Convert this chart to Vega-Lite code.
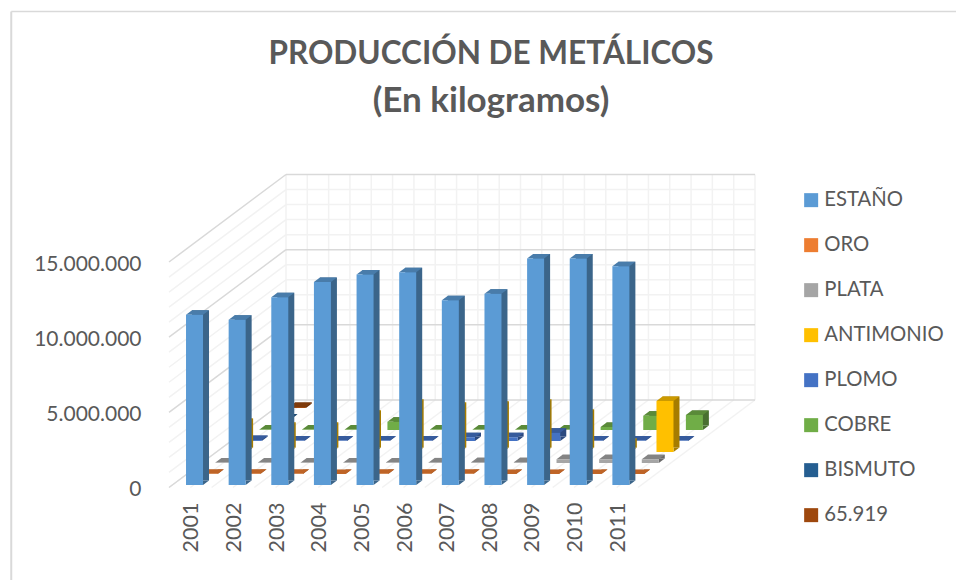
{"$schema":"https://vega.github.io/schema/vega-lite/v6.json","width":956,"height":580,"padding":0,"autosize":"none","background":"#ffffff","title":{"text":"PRODUCCIÓN DE METÁLICOS","subtitle":"(En kilogramos)","font":"Lato","fontSize":31.5,"fontWeight":"bold","color":"#595959","subtitleFont":"Lato","subtitleFontSize":35,"subtitleFontWeight":"bold","subtitleColor":"#595959","subtitlePadding":14,"anchor":"middle","dx":13,"offset":-119},"config":{"view":{"stroke":null},"font":"Lato","axis":{"grid":false,"domain":false,"ticks":false}},"data":{"values":[
{"frame":1},
{"grid":"minor","v":1000000},{"grid":"minor","v":2000000},{"grid":"minor","v":3000000},{"grid":"minor","v":4000000},{"grid":"minor","v":6000000},{"grid":"minor","v":7000000},{"grid":"minor","v":8000000},{"grid":"minor","v":9000000},{"grid":"minor","v":11000000},{"grid":"minor","v":12000000},{"grid":"minor","v":13000000},{"grid":"minor","v":14000000},
{"grid":"major","v":0},{"grid":"major","v":5000000},{"grid":"major","v":10000000},{"grid":"major","v":15000000},
{"cat":2000.5},{"cat":2001},{"cat":2001.5},{"cat":2002},{"cat":2002.5},{"cat":2003},{"cat":2003.5},{"cat":2004},{"cat":2004.5},{"cat":2005},{"cat":2005.5},{"cat":2006},{"cat":2006.5},{"cat":2007},{"cat":2007.5},{"cat":2008},{"cat":2008.5},{"cat":2009},{"cat":2009.5},{"cat":2010},{"cat":2010.5},{"cat":2011},{"cat":2011.5},
{"year":2001,"serie":"ESTAÑO","value":11330000},{"year":2002,"serie":"ESTAÑO","value":11000000},{"year":2003,"serie":"ESTAÑO","value":12490000},{"year":2004,"serie":"ESTAÑO","value":13510000},{"year":2005,"serie":"ESTAÑO","value":14000000},{"year":2006,"serie":"ESTAÑO","value":14150000},{"year":2007,"serie":"ESTAÑO","value":12290000},{"year":2008,"serie":"ESTAÑO","value":12730000},{"year":2009,"serie":"ESTAÑO","value":15070000},{"year":2010,"serie":"ESTAÑO","value":15070000},{"year":2011,"serie":"ESTAÑO","value":14550000},
{"year":2001,"serie":"ORO","value":12000},{"year":2002,"serie":"ORO","value":11000},{"year":2003,"serie":"ORO","value":9000},{"year":2004,"serie":"ORO","value":6000},{"year":2005,"serie":"ORO","value":9000},{"year":2006,"serie":"ORO","value":10000},{"year":2007,"serie":"ORO","value":9000},{"year":2008,"serie":"ORO","value":8000},{"year":2009,"serie":"ORO","value":7000},{"year":2010,"serie":"ORO","value":6000},{"year":2011,"serie":"ORO","value":7000},
{"year":2001,"serie":"PLATA","value":30000},{"year":2002,"serie":"PLATA","value":30000},{"year":2003,"serie":"PLATA","value":30000},{"year":2004,"serie":"PLATA","value":30000},{"year":2005,"serie":"PLATA","value":30000},{"year":2006,"serie":"PLATA","value":40000},{"year":2007,"serie":"PLATA","value":50000},{"year":2008,"serie":"PLATA","value":50000},{"year":2009,"serie":"PLATA","value":250000},{"year":2010,"serie":"PLATA","value":250000},{"year":2011,"serie":"PLATA","value":250000},
{"year":2001,"serie":"ANTIMONIO","value":1930000},{"year":2002,"serie":"ANTIMONIO","value":1670000},{"year":2003,"serie":"ANTIMONIO","value":1670000},{"year":2004,"serie":"ANTIMONIO","value":2470000},{"year":2005,"serie":"ANTIMONIO","value":3200000},{"year":2006,"serie":"ANTIMONIO","value":3000000},{"year":2007,"serie":"ANTIMONIO","value":3070000},{"year":2008,"serie":"ANTIMONIO","value":3200000},{"year":2009,"serie":"ANTIMONIO","value":2530000},{"year":2010,"serie":"ANTIMONIO","value":600000},{"year":2011,"serie":"ANTIMONIO","value":3400000},
{"year":2001,"serie":"PLOMO","value":60000},{"year":2002,"serie":"PLOMO","value":30000},{"year":2003,"serie":"PLOMO","value":30000},{"year":2004,"serie":"PLOMO","value":30000},{"year":2005,"serie":"PLOMO","value":30000},{"year":2006,"serie":"PLOMO","value":250000},{"year":2007,"serie":"PLOMO","value":250000},{"year":2008,"serie":"PLOMO","value":550000},{"year":2009,"serie":"PLOMO","value":30000},{"year":2010,"serie":"PLOMO","value":30000},{"year":2011,"serie":"PLOMO","value":30000},
{"year":2001,"serie":"COBRE","value":30000},{"year":2002,"serie":"COBRE","value":30000},{"year":2003,"serie":"COBRE","value":30000},{"year":2004,"serie":"COBRE","value":550000},{"year":2005,"serie":"COBRE","value":30000},{"year":2006,"serie":"COBRE","value":30000},{"year":2007,"serie":"COBRE","value":30000},{"year":2008,"serie":"COBRE","value":30000},{"year":2009,"serie":"COBRE","value":200000},{"year":2010,"serie":"COBRE","value":950000},{"year":2011,"serie":"COBRE","value":1000000},
{"year":2001,"serie":"BISMUTO","value":30000},{"year":2001,"serie":"65.919","value":65919}]},"layer":[
{"transform":[{"filter":"datum.frame===1"}],"mark":{"type":"rule","color":"#d9d9d9","strokeWidth":1.5},"encoding":{"x":{"datum":1996.8},"x2":{"datum":2019},"y":{"datum":31660000}}},
{"transform":[{"filter":"datum.frame===1"}],"mark":{"type":"rule","color":"#d9d9d9","strokeWidth":2},"encoding":{"x":{"datum":1996.8},"y":{"datum":31660000},"y2":{"datum":-6200000}}},
{"transform":[{"filter":"datum.grid==='minor'"}],"mark":{"type":"rule","color":"#f2f2f2","strokeWidth":1.5,"xOffset":117,"x2Offset":117,"yOffset":-87.5,"y2Offset":-87.5},"encoding":{"x":{"datum":2000.5},"x2":{"datum":2011.5},"y":{"field":"v","type":"quantitative"},"y2":{"field":"v"}}},
{"transform":[{"filter":"datum.grid==='minor'"}],"mark":{"type":"rule","color":"#f2f2f2","strokeWidth":1.5,"x2Offset":117,"y2Offset":-87.5},"encoding":{"x":{"datum":2000.5},"x2":{"datum":2000.5},"y":{"field":"v","type":"quantitative"},"y2":{"field":"v"}}},
{"transform":[{"filter":"isValid(datum.cat)"}],"mark":{"type":"rule","color":"#f2f2f2","strokeWidth":1.5,"xOffset":117,"yOffset":-87.5,"y2Offset":-87.5},"encoding":{"x":{"field":"cat","type":"quantitative"},"y":{"datum":0},"y2":{"datum":15000000}}},
{"transform":[{"filter":"isValid(datum.cat)"}],"mark":{"type":"rule","color":"#f2f2f2","strokeWidth":1.5,"x2Offset":117,"y2Offset":-87.5},"encoding":{"x":{"field":"cat","type":"quantitative"},"x2":{"field":"cat"},"y":{"datum":0},"y2":{"datum":0}}},
{"transform":[{"filter":"datum.grid==='major'"}],"mark":{"type":"rule","color":"#d9d9d9","strokeWidth":1.5,"xOffset":117,"x2Offset":117,"yOffset":-87.5,"y2Offset":-87.5},"encoding":{"x":{"datum":2000.5},"x2":{"datum":2011.5},"y":{"field":"v","type":"quantitative"},"y2":{"field":"v"}}},
{"transform":[{"filter":"datum.grid==='major'"}],"mark":{"type":"rule","color":"#d9d9d9","strokeWidth":1.5,"x2Offset":117,"y2Offset":-87.5},"encoding":{"x":{"datum":2000.5},"x2":{"datum":2000.5},"y":{"field":"v","type":"quantitative"},"y2":{"field":"v"}}},
{"encoding":{"x":{"field":"year","type":"quantitative","scale":{"domain":[2000.5,2011.5],"range":[169,638],"nice":false,"zero":false,"padding":0},"axis":{"title":null,"values":[2001,2002,2003,2004,2005,2006,2007,2008,2009,2010,2011],"format":"d","labelAngle":-90,"labelFontSize":21.5,"labelFont":"Lato","labelColor":"#595959","labelOffset":1.5,"domain":false,"ticks":false,"grid":false,"offset":-92,"labelPadding":14}},"y":{"field":"value","type":"quantitative","stack":null,"scale":{"domain":[0,15000000],"range":[487.5,262],"nice":false,"zero":false},"axis":{"title":null,"values":[0,5000000,10000000,15000000],"labelExpr":"replace(format(datum.value,','),/,/g,'.')","labelFontSize":21,"labelFont":"Lato","labelColor":"#595959","labelOffset":2,"domain":false,"ticks":false,"grid":false,"offset":-148,"labelPadding":7}}},"layer":[
{"transform":[{"filter":"datum.serie==='65.919'"}],"layer":[
{"mark":{"type":"bar","orient":"vertical","width":17,"color":"#672f09","xOffset":113.1,"yOffset":-84,"y2Offset":-84},"encoding":{"y2":{"datum":0}}},
{"mark":{"type":"point","filled":true,"opacity":1,"size":400,"shape":"M0.85 0L1.45 -0.45L0.85 -0.45Z","color":"#672f09","xOffset":107.1,"yOffset":-79.5},"encoding":{"y":{"datum":0}}},
{"mark":{"type":"point","filled":true,"opacity":1,"size":400,"shape":"M-0.85 0L0.85 0L1.45 -0.45L-0.25 -0.45Z","color":"#7e3a0b","xOffset":107.1,"yOffset":-79.5}},
{"mark":{"type":"bar","orient":"vertical","width":17,"xOffset":107.1,"yOffset":-79.5,"y2Offset":-79.5},"encoding":{"y2":{"datum":0},"color":{"field":"serie","type":"nominal","scale":{"domain":["ESTAÑO","ORO","PLATA","ANTIMONIO","PLOMO","COBRE","BISMUTO","65.919"],"range":["#5b9bd5","#ed7d31","#a5a5a5","#ffc000","#4472c4","#70ad47","#255e91","#9e480e"]},"legend":{"title":null,"orient":"none","legendX":801,"legendY":190,"symbolType":"square","symbolSize":196,"symbolStrokeWidth":0,"labelFontSize":20.3,"labelFont":"Lato","labelColor":"#595959","labelOffset":3,"rowPadding":24,"labelLimit":200}}}}
]},
{"transform":[{"filter":"datum.serie==='BISMUTO'"}],"layer":[
{"mark":{"type":"bar","orient":"vertical","width":17,"color":"#183d5e","xOffset":98.4,"yOffset":-73,"y2Offset":-73},"encoding":{"y2":{"datum":0}}},
{"mark":{"type":"point","filled":true,"opacity":1,"size":400,"shape":"M0.85 0L1.45 -0.45L0.85 -0.45Z","color":"#183d5e","xOffset":92.4,"yOffset":-68.5},"encoding":{"y":{"datum":0}}},
{"mark":{"type":"point","filled":true,"opacity":1,"size":400,"shape":"M-0.85 0L0.85 0L1.45 -0.45L-0.25 -0.45Z","color":"#1e4b74","xOffset":92.4,"yOffset":-68.5}},
{"mark":{"type":"bar","orient":"vertical","width":17,"xOffset":92.4,"yOffset":-68.5,"y2Offset":-68.5},"encoding":{"y2":{"datum":0},"color":{"field":"serie","type":"nominal"}}}
]},
{"transform":[{"filter":"datum.serie==='COBRE'"}],"layer":[
{"mark":{"type":"bar","orient":"vertical","width":17,"color":"#497030","xOffset":83.7,"yOffset":-62,"y2Offset":-62},"encoding":{"y2":{"datum":0}}},
{"mark":{"type":"point","filled":true,"opacity":1,"size":400,"shape":"M0.85 0L1.45 -0.45L0.85 -0.45Z","color":"#497030","xOffset":77.7,"yOffset":-57.5},"encoding":{"y":{"datum":0}}},
{"mark":{"type":"point","filled":true,"opacity":1,"size":400,"shape":"M-0.85 0L0.85 0L1.45 -0.45L-0.25 -0.45Z","color":"#5a8a39","xOffset":77.7,"yOffset":-57.5}},
{"mark":{"type":"bar","orient":"vertical","width":17,"xOffset":77.7,"yOffset":-57.5,"y2Offset":-57.5},"encoding":{"y2":{"datum":0},"color":{"field":"serie","type":"nominal"}}}
]},
{"transform":[{"filter":"datum.serie==='PLOMO'"}],"layer":[
{"mark":{"type":"bar","orient":"vertical","width":17,"color":"#2c4a80","xOffset":69,"yOffset":-51,"y2Offset":-51},"encoding":{"y2":{"datum":0}}},
{"mark":{"type":"point","filled":true,"opacity":1,"size":400,"shape":"M0.85 0L1.45 -0.45L0.85 -0.45Z","color":"#2c4a80","xOffset":63,"yOffset":-46.5},"encoding":{"y":{"datum":0}}},
{"mark":{"type":"point","filled":true,"opacity":1,"size":400,"shape":"M-0.85 0L0.85 0L1.45 -0.45L-0.25 -0.45Z","color":"#365b9d","xOffset":63,"yOffset":-46.5}},
{"mark":{"type":"bar","orient":"vertical","width":17,"xOffset":63,"yOffset":-46.5,"y2Offset":-46.5},"encoding":{"y2":{"datum":0},"color":{"field":"serie","type":"nominal"}}}
]},
{"transform":[{"filter":"datum.serie==='ANTIMONIO'"}],"layer":[
{"mark":{"type":"bar","orient":"vertical","width":17,"color":"#a67c00","xOffset":54.3,"yOffset":-40,"y2Offset":-40},"encoding":{"y2":{"datum":0}}},
{"mark":{"type":"point","filled":true,"opacity":1,"size":400,"shape":"M0.85 0L1.45 -0.45L0.85 -0.45Z","color":"#a67c00","xOffset":48.3,"yOffset":-35.5},"encoding":{"y":{"datum":0}}},
{"mark":{"type":"point","filled":true,"opacity":1,"size":400,"shape":"M-0.85 0L0.85 0L1.45 -0.45L-0.25 -0.45Z","color":"#cc9a00","xOffset":48.3,"yOffset":-35.5}},
{"mark":{"type":"bar","orient":"vertical","width":17,"xOffset":48.3,"yOffset":-35.5,"y2Offset":-35.5},"encoding":{"y2":{"datum":0},"color":{"field":"serie","type":"nominal"}}}
]},
{"transform":[{"filter":"datum.serie==='PLATA'"}],"layer":[
{"mark":{"type":"bar","orient":"vertical","width":17,"color":"#6b6b6b","xOffset":39.6,"yOffset":-29,"y2Offset":-29},"encoding":{"y2":{"datum":0}}},
{"mark":{"type":"point","filled":true,"opacity":1,"size":400,"shape":"M0.85 0L1.45 -0.45L0.85 -0.45Z","color":"#6b6b6b","xOffset":33.6,"yOffset":-24.5},"encoding":{"y":{"datum":0}}},
{"mark":{"type":"point","filled":true,"opacity":1,"size":400,"shape":"M-0.85 0L0.85 0L1.45 -0.45L-0.25 -0.45Z","color":"#848484","xOffset":33.6,"yOffset":-24.5}},
{"mark":{"type":"bar","orient":"vertical","width":17,"xOffset":33.6,"yOffset":-24.5,"y2Offset":-24.5},"encoding":{"y2":{"datum":0},"color":{"field":"serie","type":"nominal"}}}
]},
{"transform":[{"filter":"datum.serie==='ORO'"}],"layer":[
{"mark":{"type":"bar","orient":"vertical","width":17,"color":"#9a5120","xOffset":24.9,"yOffset":-18,"y2Offset":-18},"encoding":{"y2":{"datum":0}}},
{"mark":{"type":"point","filled":true,"opacity":1,"size":400,"shape":"M0.85 0L1.45 -0.45L0.85 -0.45Z","color":"#9a5120","xOffset":18.9,"yOffset":-13.5},"encoding":{"y":{"datum":0}}},
{"mark":{"type":"point","filled":true,"opacity":1,"size":400,"shape":"M-0.85 0L0.85 0L1.45 -0.45L-0.25 -0.45Z","color":"#be6427","xOffset":18.9,"yOffset":-13.5}},
{"mark":{"type":"bar","orient":"vertical","width":17,"xOffset":18.9,"yOffset":-13.5,"y2Offset":-13.5},"encoding":{"y2":{"datum":0},"color":{"field":"serie","type":"nominal"}}}
]},
{"transform":[{"filter":"datum.serie==='ESTAÑO'"}],"layer":[
{"mark":{"type":"bar","orient":"vertical","width":17,"color":"#3b658a","xOffset":10.2,"yOffset":-7,"y2Offset":-7},"encoding":{"y2":{"datum":0}}},
{"mark":{"type":"point","filled":true,"opacity":1,"size":400,"shape":"M0.85 0L1.45 -0.45L0.85 -0.45Z","color":"#3b658a","xOffset":4.2,"yOffset":-2.5},"encoding":{"y":{"datum":0}}},
{"mark":{"type":"point","filled":true,"opacity":1,"size":400,"shape":"M-0.85 0L0.85 0L1.45 -0.45L-0.25 -0.45Z","color":"#497caa","xOffset":4.2,"yOffset":-2.5}},
{"mark":{"type":"bar","orient":"vertical","width":17,"xOffset":4.2,"yOffset":-2.5,"y2Offset":-2.5},"encoding":{"y2":{"datum":0},"color":{"field":"serie","type":"nominal"}}}
]}
]}
]}
